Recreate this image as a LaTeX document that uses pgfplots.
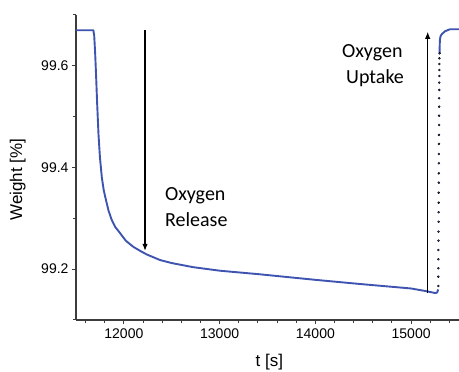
\documentclass[border=0pt]{standalone}
\usepackage{pgfplots}
\pgfplotsset{compat=1.18}
\usetikzlibrary{arrows.meta}
\usepackage{fontspec}
\setmainfont{Liberation Sans}
\newfontfamily\annot{Carlito}
\definecolor{curve}{RGB}{62,84,176}
\definecolor{axgray}{RGB}{60,60,60}
\begin{document}
\begin{tikzpicture}
\begin{axis}[
  at={(0pt,0pt)}, anchor=south west,
  scale only axis, width=383pt, height=305pt,
  xmin=11500, xmax=15500, ymin=99.1, ymax=99.7,
  axis x line*=bottom, axis y line*=left,
  axis line style={axgray, line width=1.2pt, -},
  scaled ticks=false,
  xtick={12000,13000,14000,15000},
  xticklabels={12000,13000,14000,15000},
  minor xtick={11600,11800,...,15400},
  ytick={99.2,99.4,99.6},
  yticklabels={99.2,99.4,99.6},
  minor ytick={99.1,99.3,99.5,99.7},
  tick style={axgray, line width=1pt},
  major tick length=4pt, minor tick length=3pt,
  tick align=outside,
  ticklabel style={font=\fontsize{14}{16}\selectfont},
  xticklabel style={yshift=-1pt},
  xlabel={t [s]}, ylabel={Weight [\%]},
  label style={font=\fontsize{17}{20}\selectfont},
  xlabel style={at={(axis description cs:0.505,-0.138)}, anchor=center},
  ylabel style={at={(axis description cs:-0.152,0.46)}, anchor=center},
  clip=false,
]
\addplot[curve, line width=1.9pt, line join=round] coordinates {
(11500,99.670) (11600,99.670) (11681,99.670) (11690,99.660) (11700,99.625)
(11710,99.580) (11720,99.530) (11735,99.465) (11750,99.420) (11770,99.380)
(11790,99.355) (11813,99.336) (11840,99.315) (11873,99.297) (11910,99.283)
(11960,99.271) (12020,99.256) (12098,99.244) (12170,99.236) (12238,99.229)
(12377,99.218) (12500,99.212) (12721,99.204) (13000,99.197) (13415,99.190)
(14000,99.179) (14455,99.171) (15000,99.162) (15149,99.157) (15253,99.153)
(15270,99.154) (15284,99.160)
};
\addplot[only marks, mark=*, mark size=1pt, mark options={draw=none, fill=curve}] coordinates {
(15284,99.1669) (15284,99.1852) (15285,99.2017) (15285,99.2194) (15285,99.2377)
(15286,99.2560) (15286,99.2737) (15287,99.2934) (15287,99.3119) (15288,99.3308)
(15288,99.3504) (15289,99.3701) (15289,99.3886) (15290,99.4083) (15290,99.4266)
(15291,99.4463) (15291,99.4640) (15292,99.4836) (15292,99.5019) (15293,99.5196)
(15293,99.5362) (15294,99.5525) (15294,99.5669) (15295,99.5800) (15295,99.5918)
(15296,99.6036) (15296,99.6149) (15297,99.6247)
};
\addplot[curve, line width=1.9pt, line join=round] coordinates {
(15297,99.6247) (15298,99.6345) (15299,99.6430) (15301,99.6509) (15306,99.6574)
(15319,99.6620) (15354,99.6680) (15406,99.6720) (15500,99.6720)
};
\draw[-{Latex[length=7pt,width=5.5pt]}, line width=1.2pt] (axis cs:12221,99.670) -- (axis cs:12221,99.236);
\draw[-{Latex[length=7pt,width=5.5pt]}, line width=1.2pt] (axis cs:15173,99.153) -- (axis cs:15173,99.667);
\node[anchor=base west, inner sep=0pt, font=\annot\fontsize{20}{24}\selectfont] at (axis cs:12429,99.335) {Oxygen};
\node[anchor=base west, inner sep=0pt, font=\annot\fontsize{20}{24}\selectfont] at (axis cs:12429,99.284) {Release};
\node[anchor=base west, inner sep=0pt, font=\annot\fontsize{20}{24}\selectfont] at (axis cs:14278,99.617) {Oxygen};
\node[anchor=base west, inner sep=0pt, font=\annot\fontsize{20}{24}\selectfont] at (axis cs:14320,99.566) {Uptake};
\end{axis}
\pgfresetboundingbox
\useasboundingbox (-76pt,-52pt) rectangle (383pt,320pt);
\end{tikzpicture}
\end{document}
